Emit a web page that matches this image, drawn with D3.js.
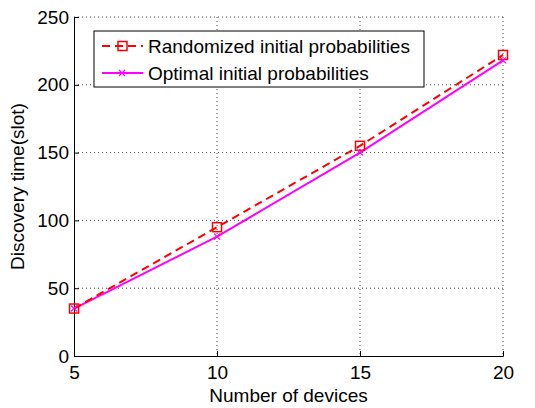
<!DOCTYPE html>
<html>
<head>
<meta charset="utf-8">
<script src="https://cdn.jsdelivr.net/npm/d3@7"></script>
<style>
  body { margin: 0; background: #fff; }
  text { font-family: "Liberation Sans", Arial, sans-serif; fill: #000; }
</style>
</head>
<body>
<div id="chart"></div>
<script>
// data
var devices = [5, 10, 15, 20];
var randomized = [35, 95, 155, 222];
var optimal = [35, 88, 150, 218];
var xTicks = [5, 10, 15, 20];
var yTicks = [0, 50, 100, 150, 200, 250];
var seriesNames = ["Randomized initial probabilities", "Optimal initial probabilities"];

var W = 535, H = 408;
var margin = {top: 17, right: 32, bottom: 52, left: 74};
var width = W - margin.left - margin.right,
    height = H - margin.top - margin.bottom;
var fs = "19px";

var svg = d3.select("#chart").append("svg")
  .attr("width", W)
  .attr("height", H);

svg.append("rect").attr("width", W).attr("height", H).attr("fill", "#fff");

var g = svg.append("g")
  .attr("transform", "translate(" + margin.left + "," + margin.top + ")");

var x = d3.scaleLinear().domain([5, 20]).range([0, width]);
var y = d3.scaleLinear().domain([0, 250]).range([height, 0]);

// dotted grid
g.append("g").selectAll("line.gx")
  .data(xTicks.slice(1))
  .join("line")
  .attr("x1", d => x(d)).attr("x2", d => x(d))
  .attr("y1", 0).attr("y2", height)
  .attr("stroke", "#444").attr("stroke-width", 1)
  .attr("stroke-dasharray", "1,3");

g.append("g").selectAll("line.gy")
  .data(yTicks.slice(1))
  .join("line")
  .attr("x1", 0).attr("x2", width)
  .attr("y1", d => y(d)).attr("y2", d => y(d))
  .attr("stroke", "#444").attr("stroke-width", 1)
  .attr("stroke-dasharray", "1,3");

// axes
var xAxis = d3.axisBottom(x).tickValues(xTicks).tickSize(-5).tickPadding(10).tickFormat(d3.format("d"));
var yAxis = d3.axisLeft(y).tickValues(yTicks).tickSize(-5).tickPadding(5).tickFormat(d3.format("d"));

var gx = g.append("g").attr("transform", "translate(0," + height + ")").call(xAxis);
var gy = g.append("g").call(yAxis);
[gx, gy].forEach(function(a) {
  a.select(".domain").attr("stroke", "#000");
  a.selectAll(".tick line").attr("stroke", "#000");
  a.selectAll(".tick text").style("font-size", fs).attr("fill", "#000");
});

// lines
var line = d3.line()
  .x((d, i) => x(devices[i]))
  .y(d => y(d));

g.append("path")
  .attr("d", line(optimal))
  .attr("fill", "none")
  .attr("stroke", "#ff00ff")
  .attr("stroke-width", 2);

g.append("path")
  .attr("d", line(randomized))
  .attr("fill", "none")
  .attr("stroke", "#ff0000")
  .attr("stroke-width", 2)
  .attr("stroke-dasharray", "8,5");

// markers
g.selectAll("rect.sq")
  .data(randomized)
  .join("rect")
  .attr("x", (d, i) => x(devices[i]) - 4.5)
  .attr("y", d => y(d) - 4.5)
  .attr("width", 9).attr("height", 9)
  .attr("fill", "none")
  .attr("stroke", "#ff0000")
  .attr("stroke-width", 1.5);

g.selectAll("path.cross")
  .data(optimal)
  .join("path")
  .attr("d", (d, i) => {
    var cx = x(devices[i]), cy = y(d), s = 3;
    return "M" + (cx - s) + "," + (cy - s) + "L" + (cx + s) + "," + (cy + s) +
           "M" + (cx - s) + "," + (cy + s) + "L" + (cx + s) + "," + (cy - s);
  })
  .attr("stroke", "#ff00ff")
  .attr("stroke-width", 1.2);

// legend
var leg = svg.append("g").attr("transform", "translate(94,31)");
leg.append("rect")
  .attr("width", 330).attr("height", 56)
  .attr("fill", "#fff").attr("stroke", "#000").attr("stroke-width", 1);

var r1 = 15, r2 = 42;
leg.append("line").attr("x1", 8).attr("x2", 49).attr("y1", r1).attr("y2", r1)
  .attr("stroke", "#ff0000").attr("stroke-width", 2).attr("stroke-dasharray", "8,5");
leg.append("rect").attr("x", 24).attr("y", r1 - 4.5).attr("width", 9).attr("height", 9)
  .attr("fill", "none").attr("stroke", "#ff0000").attr("stroke-width", 1.5);
leg.append("line").attr("x1", 8).attr("x2", 49).attr("y1", r2).attr("y2", r2)
  .attr("stroke", "#ff00ff").attr("stroke-width", 2);
leg.append("path")
  .attr("d", "M25," + (r2 - 3) + "L31," + (r2 + 3) + "M25," + (r2 + 3) + "L31," + (r2 - 3))
  .attr("stroke", "#ff00ff").attr("stroke-width", 1.2);

leg.selectAll("text.lt")
  .data(seriesNames)
  .join("text")
  .attr("x", 54)
  .attr("y", (d, i) => (i === 0 ? r1 : r2) + 7)
  .style("font-size", fs)
  .text(d => d);

// axis titles
svg.append("text")
  .attr("x", margin.left + width / 2)
  .attr("y", 402)
  .attr("text-anchor", "middle")
  .style("font-size", fs)
  .text("Number of devices");

svg.append("text")
  .attr("transform", "translate(24," + (margin.top + height / 2) + ") rotate(-90)")
  .attr("text-anchor", "middle")
  .style("font-size", fs)
  .text("Discovery time(slot)");
</script>
</body>
</html>
